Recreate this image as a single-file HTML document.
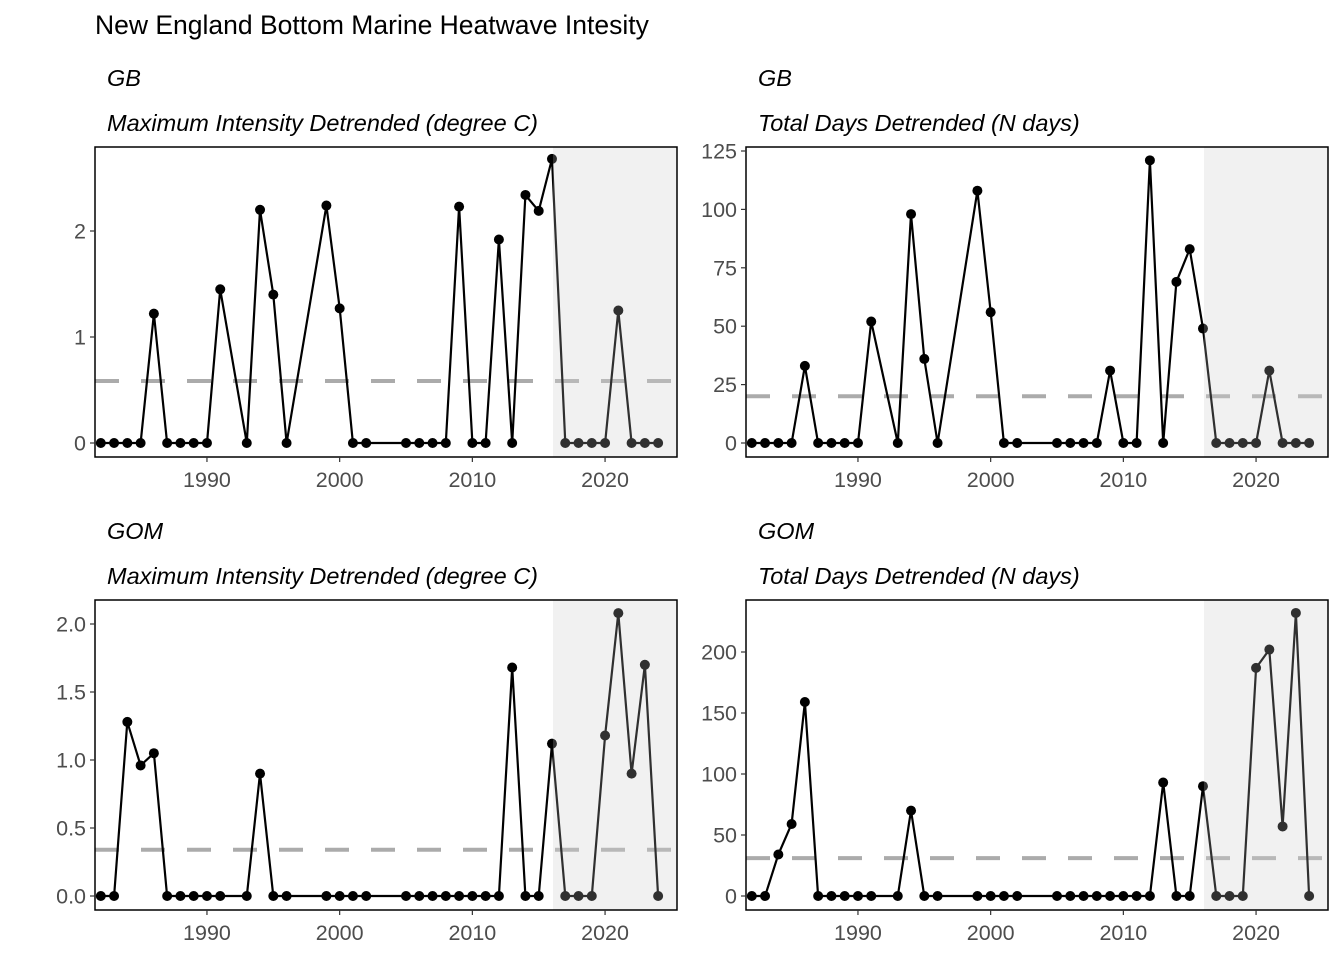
<!DOCTYPE html>
<html><head><meta charset="utf-8"><style>
html,body{margin:0;padding:0;background:#fff;}
svg{display:block;font-family:"Liberation Sans",sans-serif;}
</style></head><body>
<svg id="s" width="1344" height="960" xmlns="http://www.w3.org/2000/svg"></svg>
<script>
const S=document.getElementById('s');let h='';
h+='<text x="95" y="34" font-size="26.5" fill="#000">New England Bottom Marine Heatwave Intesity</text>';
const yrs=[1982,1983,1984,1985,1986,1987,1988,1989,1990,1991,1993,1994,1995,1996,1999,2000,2001,2002,2005,2006,2007,2008,2009,2010,2011,2012,2013,2014,2015,2016,2017,2018,2019,2020,2021,2022,2023,2024];
const panels=[
{x0:95,y0:147,reg:'GB',sub:'Maximum Intensity Detrended (degree C)',y0v:443,ppu:106,dash:0.585,ticks:[[0,'0'],[1,'1'],[2,'2']],
 d:[0,0,0,0,1.22,0,0,0,0,1.45,0,2.2,1.4,0,2.24,1.27,0,0,0,0,0,0,2.23,0,0,1.92,0,2.34,2.19,2.68,0,0,0,0,1.25,0,0,0]},
{x0:746,y0:147,reg:'GB',sub:'Total Days Detrended (N days)',y0v:443,ppu:2.336,dash:20,ticks:[[0,'0'],[25,'25'],[50,'50'],[75,'75'],[100,'100'],[125,'125']],
 d:[0,0,0,0,33,0,0,0,0,52,0,98,36,0,108,56,0,0,0,0,0,0,31,0,0,121,0,69,83,49,0,0,0,0,31,0,0,0]},
{x0:95,y0:600,reg:'GOM',sub:'Maximum Intensity Detrended (degree C)',y0v:896,ppu:136,dash:0.34,ticks:[[0,'0.0'],[0.5,'0.5'],[1,'1.0'],[1.5,'1.5'],[2,'2.0']],
 d:[0,0,1.28,0.96,1.05,0,0,0,0,0,0,0.9,0,0,0,0,0,0,0,0,0,0,0,0,0,0,1.68,0,0,1.12,0,0,0,1.18,2.08,0.9,1.7,0]},
{x0:746,y0:600,reg:'GOM',sub:'Total Days Detrended (N days)',y0v:896,ppu:1.22,dash:31,ticks:[[0,'0'],[50,'50'],[100,'100'],[150,'150'],[200,'200']],
 d:[0,0,34,59,159,0,0,0,0,0,0,70,0,0,0,0,0,0,0,0,0,0,0,0,0,0,93,0,0,90,0,0,0,187,202,57,232,0]}
];
for(const p of panels){
 const W=582,H=310;
 const X=y=>p.x0+5.8+(y-1982)*13.27;
 const Y=v=>p.y0v-v*p.ppu;
 h+=`<text x="${p.x0+12}" y="${p.y0-61}" font-size="23.5" font-style="italic" fill="#000">${p.reg}</text>`;
 h+=`<text x="${p.x0+12}" y="${p.y0-16}" font-size="23.5" font-style="italic" fill="#000">${p.sub}</text>`;
 const sx=X(2016)+1;
 h+=`<rect x="${sx}" y="${p.y0}" width="${p.x0+W-sx}" height="${H}" fill="#f2f2f2"/>`;
 h+=`<line x1="${p.x0}" x2="${p.x0+W}" y1="${Y(p.dash)}" y2="${Y(p.dash)}" stroke="#ababab" stroke-width="4" stroke-dasharray="24,22"/>`;
 let pts=yrs.map((y,i)=>X(y).toFixed(1)+','+Y(p.d[i]).toFixed(1)).join(' ');
 h+=`<polyline points="${pts}" fill="none" stroke="#000" stroke-width="2.2"/>`;
 yrs.forEach((y,i)=>{h+=`<circle cx="${X(y)}" cy="${Y(p.d[i])}" r="5" fill="#000"/>`;});
 h+=`<rect x="${sx}" y="${p.y0}" width="${p.x0+W-sx}" height="${H}" fill="rgba(242,242,242,0.2)"/>`;
 h+=`<rect x="${p.x0}" y="${p.y0}" width="${W}" height="${H}" fill="none" stroke="#000" stroke-width="1.5"/>`;
 for(const [v,l] of p.ticks){const yy=Y(v);
  h+=`<line x1="${p.x0-5}" x2="${p.x0}" y1="${yy}" y2="${yy}" stroke="#333" stroke-width="1.2"/>`;
  h+=`<text x="${p.x0-9}" y="${yy+7.5}" font-size="21.5" text-anchor="end" fill="#4d4d4d">${l}</text>`;}
 for(const y of [1990,2000,2010,2020]){const xx=X(y);
  h+=`<line x1="${xx}" x2="${xx}" y1="${p.y0+H}" y2="${p.y0+H+5}" stroke="#333" stroke-width="1.2"/>`;
  h+=`<text x="${xx}" y="${p.y0+H+30}" font-size="21.5" text-anchor="middle" fill="#4d4d4d">${y}</text>`;}
}
S.innerHTML=h;
</script>
</body></html>
